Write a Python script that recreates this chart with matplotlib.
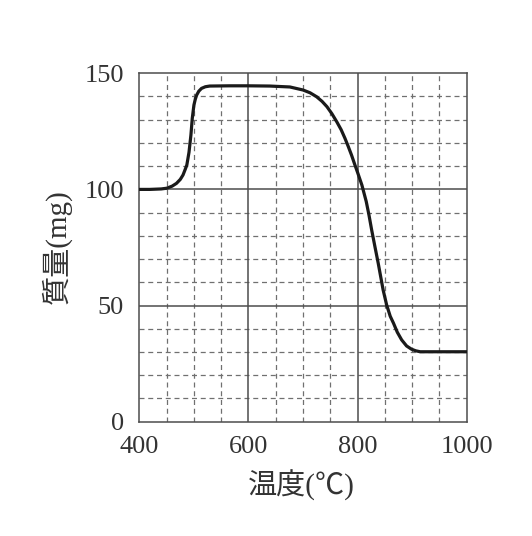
import matplotlib
matplotlib.use("Agg")
import matplotlib.pyplot as plt

# 読み取った曲線の値
temp = [400, 419, 440, 450, 460, 468, 475, 480, 484, 487, 491, 494.5, 497, 500, 502.5,
        505, 509, 514, 521, 529, 566, 600, 639, 676, 700, 713, 725, 735, 744, 753,
        762, 770, 777, 783, 789, 795, 800, 808, 816, 821, 826, 832, 838, 847, 853.5, 860, 866,
        873, 881, 890, 899, 907, 915, 951, 1000]
mass = [100, 100, 100.2, 100.5, 101.4, 102.6, 104.3, 106.2, 108.6, 110.5, 116, 123.4, 130.6, 136.3, 138.8,
        140.6, 142.3, 143.5, 144.2, 144.5, 144.6, 144.6, 144.5, 144.1, 142.8, 141.6, 139.9, 137.9, 135.6, 132.6,
        129.1, 125.7, 122, 118.5, 114.8, 110.7, 107.4, 101.9, 94.8, 89, 82.5, 75.3, 68.2, 56.7, 50.2, 45.4, 42.4,
        38.5, 35.2, 32.6, 31.2, 30.5, 30.1, 30.1, 30.1]

x_ticks = [400, 600, 800, 1000]
y_ticks = [0, 50, 100, 150]
x_minor = [450, 500, 550, 650, 700, 750, 850, 900, 950]
y_minor = [v for v in range(10, 150, 10) if v not in (50, 100)]

num_font = "Liberation Serif"
jp_font = ["Liberation Serif", "Noto Sans CJK JP"]

fig = plt.figure(figsize=(5.32, 5.36), dpi=100)
ax = fig.add_axes([0.262, 0.2133, 0.615, 0.65])

grid_col = "#4d4d4d"
for xv in x_minor:
    ax.axvline(xv, color="#707070", lw=0.9, ls=(0, (4, 3)), zorder=1)
for yv in y_minor:
    ax.axhline(yv, color="#707070", lw=0.9, ls=(0, (4, 3)), zorder=1)
for xv in (600, 800):
    ax.axvline(xv, color=grid_col, lw=1.1, zorder=2)
for yv in (50, 100):
    ax.axhline(yv, color=grid_col, lw=1.1, zorder=2)

ax.plot(temp, mass, color="#1a1a1a", lw=2.3, zorder=3,
        solid_capstyle="round", solid_joinstyle="round")

ax.set_xlim(400, 1000)
ax.set_ylim(0, 150)
ax.set_xticks(x_ticks)
ax.set_yticks(y_ticks)
ax.set_xticklabels([str(v) for v in x_ticks], fontfamily=num_font, fontsize=19, color="#333333")
ax.set_yticklabels([str(v) for v in y_ticks], fontfamily=num_font, fontsize=19, color="#333333")
ax.tick_params(length=0)
ax.tick_params(axis="x", pad=10)
ax.tick_params(axis="y", pad=11)

for s in ax.spines.values():
    s.set_color(grid_col)
    s.set_linewidth(1.1)

fig.text(0.567, 0.094, "温度(℃)", family=jp_font, fontsize=21, color="#333333",
         ha="center", va="center")
fig.text(0.107, 0.539, "質量(mg)", family=jp_font, fontsize=21, color="#333333",
         ha="center", va="center", rotation=90)

fig.savefig("out.png", dpi=100, facecolor="white")
